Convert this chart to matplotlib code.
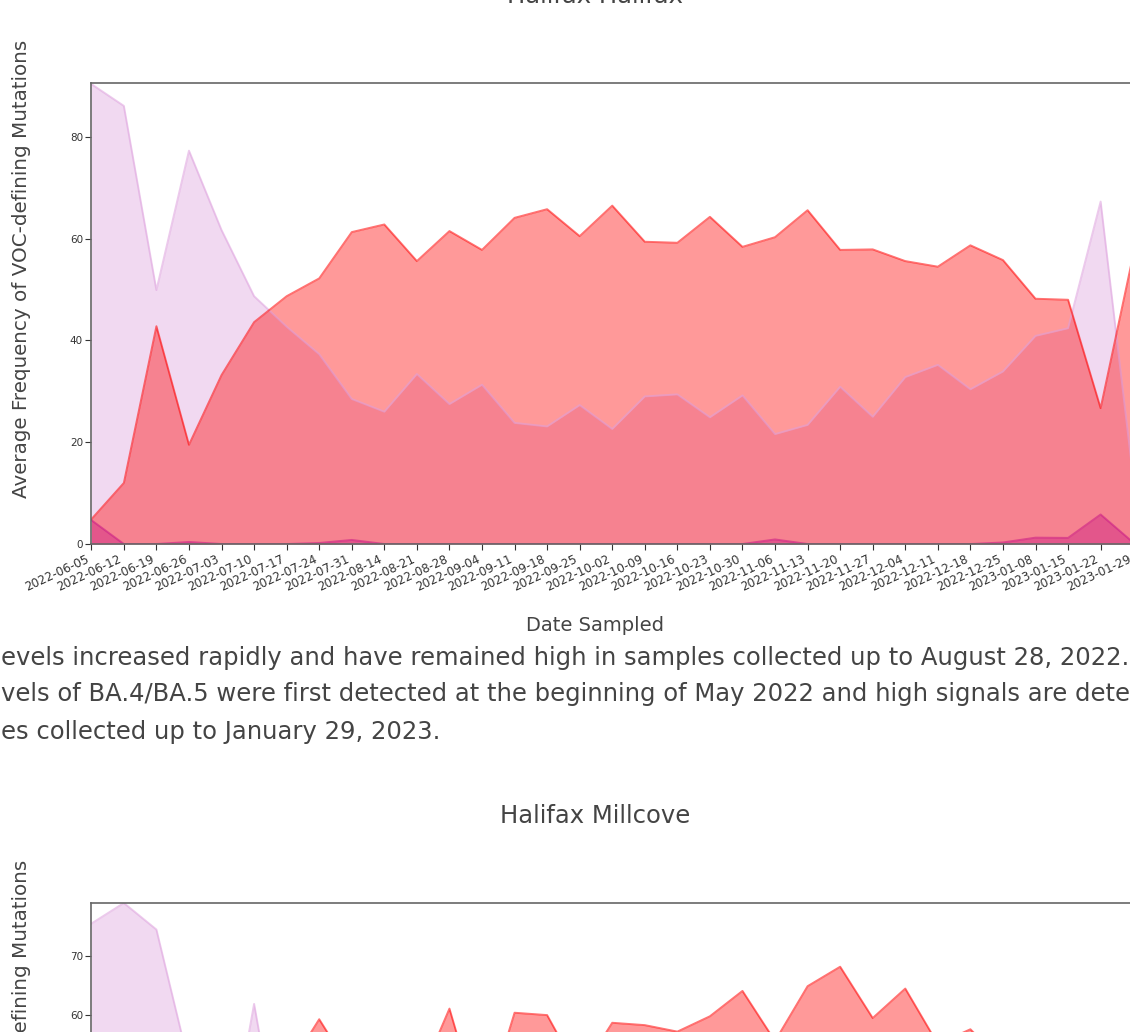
import matplotlib
matplotlib.use("Agg")
import matplotlib.pyplot as plt
import numpy as np

# ---------------- data ----------------
dates = ["2022-06-05", "2022-06-12", "2022-06-19", "2022-06-26", "2022-07-03",
         "2022-07-10", "2022-07-17", "2022-07-24", "2022-07-31", "2022-08-14",
         "2022-08-21", "2022-08-28", "2022-09-04", "2022-09-11", "2022-09-18",
         "2022-09-25", "2022-10-02", "2022-10-09", "2022-10-16", "2022-10-23",
         "2022-10-30", "2022-11-06", "2022-11-13", "2022-11-20", "2022-11-27",
         "2022-12-04", "2022-12-11", "2022-12-18", "2022-12-25", "2023-01-08",
         "2023-01-15", "2023-01-22", "2023-01-29"]

# Halifax Halifax
hal_ba2 = [90.4, 86.1, 49.9, 77.3, 61.7, 48.7, 42.7, 37.3, 28.5, 26.0,
           33.4, 27.5, 31.3, 23.8, 23.1, 27.3, 22.6, 29.0, 29.4, 24.9,
           29.2, 21.6, 23.4, 30.9, 25.0, 32.8, 35.2, 30.4, 33.9, 40.9,
           42.4, 67.3, 13.0]
hal_ba45 = [4.85, 12.0, 42.8, 19.5, 33.2, 43.6, 48.7, 52.2, 61.3, 62.8,
            55.6, 61.5, 57.8, 64.1, 65.8, 60.5, 66.5, 59.4, 59.2, 64.3,
            58.4, 60.3, 65.6, 57.8, 57.9, 55.6, 54.5, 58.7, 55.8, 48.2,
            48.0, 26.7, 56.8]
hal_ba1 = [4.7, 0.0, 0.0, 0.4, 0.0, 0.0, 0.0, 0.2, 0.8, 0.0,
           0.0, 0.0, 0.0, 0.0, 0.0, 0.0, 0.0, 0.0, 0.0, 0.0,
           0.0, 0.9, 0.0, 0.0, 0.0, 0.0, 0.0, 0.0, 0.3, 1.25,
           1.2, 5.8, 0.3]

# Halifax Millcove
mil_ba2 = [75.5, 79.0, 74.5, 51.7, 31.0, 61.9, 31.0, 30.0, 32.0, 28.0,
           30.0, 26.0, 30.0, 25.0, 24.0, 28.0, 24.0, 27.0, 28.0, 25.0,
           22.0, 28.0, 21.0, 18.0, 25.0, 22.0, 28.0, 26.0, 30.0, 34.0,
           36.0, 40.0, 30.0]
mil_ba45 = [5.0, 10.0, 20.0, 35.0, 45.0, 45.0, 50.5, 59.3, 50.5, 50.0,
            48.2, 61.1, 42.3, 60.4, 60.0, 50.0, 58.7, 58.3, 57.2, 59.8,
            64.1, 55.6, 64.9, 68.2, 59.5, 64.5, 55.1, 57.6, 52.0, 50.0,
            48.0, 45.0, 50.0]
mil_ba1 = [3.0, 0.0, 0.0, 0.0, 0.0, 0.0, 0.0, 0.0, 0.0, 0.0,
           0.0, 0.0, 0.0, 0.0, 0.0, 0.0, 0.0, 0.0, 0.0, 0.0,
           0.0, 0.0, 0.0, 0.0, 0.0, 0.0, 0.0, 0.0, 0.0, 0.5,
           0.5, 2.0, 0.5]

title1 = "Halifax Halifax"
title2 = "Halifax Millcove"
ylabel = "Average Frequency of VOC-defining Mutations"
xlabel = "Date Sampled"
para = ["evels increased rapidly and have remained high in samples collected up to August 28, 2022.",
        "vels of BA.4/BA.5 were first detected at the beginning of May 2022 and high signals are detected in",
        "es collected up to January 29, 2023."]

# ---------------- layout ----------------
W, H = 1130, 1032
fig = plt.figure(figsize=(W / 100, H / 100), dpi=100)

def rect(left, right, top, bottom):
    return [left / W, 1 - bottom / H, (right - left) / W, (bottom - top) / H]

TXT = "#444444"
series_colors = ["plum", "red", "mediumvioletred"]

def draw(ax, series, ytop, yticks, show_xlabels=True):
    x = np.arange(len(dates))
    for vals, c in zip(series, series_colors):
        ax.fill_between(x, 0, vals, color=c, alpha=0.4, linewidth=0)
        ax.plot(x, vals, color=c, alpha=0.55, lw=1.4)
    ax.set_xlim(0, len(dates) - 1)
    ax.set_ylim(0, ytop)
    ax.set_xticks(x)
    if show_xlabels:
        ax.set_xticklabels(dates, rotation=25, ha="right", fontsize=8.6)
    else:
        ax.set_xticklabels([])
    ax.set_yticks(yticks)
    ax.tick_params(axis="y", labelsize=7.5)
    ax.tick_params(colors="#333333", length=4, pad=2)
    for s in ax.spines.values():
        s.set_color("#666666")
        s.set_linewidth(1.2)

ax1 = fig.add_axes(rect(91.3, 1133.2, 83, 544))
draw(ax1, [hal_ba2, hal_ba45, hal_ba1], 90.6, [0, 20, 40, 60, 80])

ax2 = fig.add_axes(rect(91.3, 1133.2, 903, 903 + 79 * 5.9))
draw(ax2, [mil_ba2, mil_ba45, mil_ba1], 79.0, [0, 10, 20, 30, 40, 50, 60, 70],
     show_xlabels=False)

def fy(y):
    return 1 - y / H

fig.text(595 / W, fy(3), title1, ha="center", va="baseline", fontsize=17.5, color=TXT)
fig.text(595 / W, fy(823), title2, ha="center", va="baseline", fontsize=17.5, color=TXT)
fig.text(595 / W, fy(631), xlabel, ha="center", va="baseline", fontsize=14, color=TXT)
fig.text(22 / W, fy(269), ylabel, rotation=90, ha="center", va="center", fontsize=14.3, color=TXT)
fig.text(22 / W, fy(269 + 820), ylabel, rotation=90, ha="center", va="center", fontsize=14.3, color=TXT)

for line, yb in zip(para, [665, 701, 739]):
    fig.text(1 / W, fy(yb), line, ha="left", va="baseline", fontsize=17.5, color=TXT)

fig.savefig("out.png", dpi=100)
